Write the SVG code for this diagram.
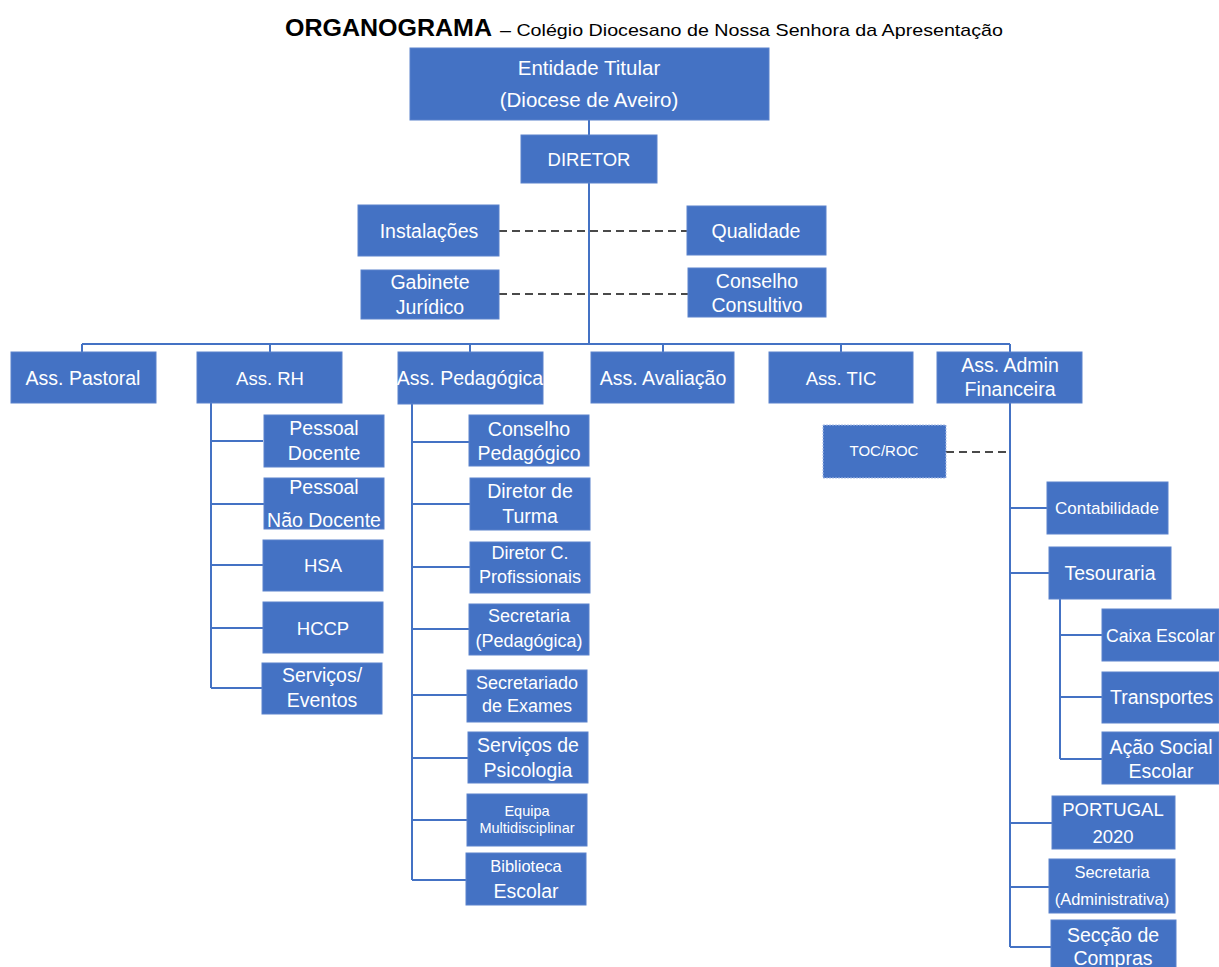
<svg xmlns="http://www.w3.org/2000/svg" width="1219" height="967" viewBox="0 0 1219 967">
<style>
.b{fill:#4472C4;stroke:#5a82cc;stroke-width:1}
.t{fill:#ffffff;font-family:"Liberation Sans",Arial,sans-serif;font-size:19.5px;text-anchor:middle}
.u{font-size:18.5px}
.m{font-size:18px}
.s{font-size:17px}
.xs{font-size:14.5px}
.c{stroke:#4472C4;stroke-width:2;fill:none}
.d{stroke:#4a4a4a;stroke-width:2;stroke-dasharray:8 5;fill:none}
</style>
<rect width="1219" height="967" fill="#ffffff"/>
<g id="title">
<text x="285" y="36" font-family="Liberation Sans,Arial,sans-serif" font-size="24" font-weight="bold" fill="#000" textLength="207" lengthAdjust="spacingAndGlyphs">ORGANOGRAMA</text>
<text x="500" y="36" font-family="Liberation Sans,Arial,sans-serif" font-size="17" fill="#000" textLength="503" lengthAdjust="spacingAndGlyphs">– Colégio Diocesano de Nossa Senhora da Apresentação</text>
</g>
<g id="connectors">
<path class="c" d="M589 120V135M589 183V344M82 344H1010M82 344V352M270 344V352M470 344V352M663 344V352M841 344V352M1010 344V352"/>
<path class="d" d="M499 231H687M499 294H688M946 452H1008"/>
<path class="c" d="M211 403V688M211 441H263M211 504H264M211 565H263M211 628H263M211 688H262"/>
<path class="c" d="M412 404V880M412 442H469M412 504H470M412 567H470M412 629H469M412 695H467M412 758H468M412 820H467M412 880H466"/>
<path class="c" d="M1010 403V947M1010 508H1047M1010 573H1049M1010 823H1052M1010 887H1049M1010 947H1051M1060 599V759M1060 635H1102M1060 697H1102M1060 759H1102"/>
</g>
<g id="entidade"><rect class="b" x="410" y="48" width="359" height="72"/><text class="t" x="589" y="75" style="font-size:20.5px">Entidade Titular</text><text class="t" x="589" y="107" style="font-size:20.5px">(Diocese de Aveiro)</text></g>
<g id="diretor"><rect class="b" x="521" y="135" width="136" height="48"/><text class="t u" x="589" y="165.5">DIRETOR</text></g>
<g id="instalacoes"><rect class="b" x="358" y="205" width="141" height="51"/><text class="t" x="429" y="238">Instalações</text></g>
<g id="qualidade"><rect class="b" x="687" y="206" width="139" height="49"/><text class="t" x="756" y="238">Qualidade</text></g>
<g id="gabinete"><rect class="b" x="361" y="270" width="138" height="49"/><text class="t" x="430" y="289">Gabinete</text><text class="t" x="430" y="314">Jurídico</text></g>
<g id="conselho-consultivo"><rect class="b" x="688" y="268" width="138" height="49"/><text class="t" x="757" y="288">Conselho</text><text class="t" x="757" y="312">Consultivo</text></g>
<g id="ass-pastoral"><rect class="b" x="11" y="352" width="145" height="51"/><text class="t" x="83" y="385">Ass. Pastoral</text></g>
<g id="ass-rh"><rect class="b" x="197" y="352" width="145" height="51"/><text class="t u" x="270" y="385">Ass. RH</text></g>
<g id="ass-pedagogica"><rect class="b" x="398" y="352" width="145" height="52"/><text class="t" x="470" y="385">Ass. Pedagógica</text></g>
<g id="ass-avaliacao"><rect class="b" x="591" y="352" width="143" height="51"/><text class="t" x="663" y="385">Ass. Avaliação</text></g>
<g id="ass-tic"><rect class="b" x="769" y="352" width="144" height="51"/><text class="t u" x="841" y="385">Ass. TIC</text></g>
<g id="ass-admin"><rect class="b" x="937" y="352" width="145" height="51"/><text class="t" x="1010" y="372">Ass. Admin</text><text class="t" x="1010" y="396">Financeira</text></g>
<g id="pessoal-docente"><rect class="b" x="264" y="415" width="120" height="52"/><text class="t" x="324" y="435">Pessoal</text><text class="t" x="324" y="460">Docente</text></g>
<g id="pessoal-nao-docente"><rect class="b" x="264" y="478" width="120" height="51"/><text class="t" x="324" y="494">Pessoal</text><text class="t" x="324" y="527">Não Docente</text></g>
<g id="hsa"><rect class="b" x="263" y="540" width="120" height="51"/><text class="t u" x="323" y="571.5">HSA</text></g>
<g id="hccp"><rect class="b" x="263" y="602" width="120" height="51"/><text class="t u" x="323" y="634.5">HCCP</text></g>
<g id="servicos-eventos"><rect class="b" x="262" y="663" width="120" height="51"/><text class="t" x="322" y="682">Serviços/</text><text class="t" x="322" y="707">Eventos</text></g>
<g id="conselho-pedagogico"><rect class="b" x="469" y="415" width="120" height="51"/><text class="t" x="529" y="436">Conselho</text><text class="t" x="529" y="460">Pedagógico</text></g>
<g id="diretor-turma"><rect class="b" x="470" y="478" width="120" height="52"/><text class="t" x="530" y="498">Diretor de</text><text class="t" x="530" y="523">Turma</text></g>
<g id="diretor-cp"><rect class="b" x="470" y="542" width="120" height="51"/><text class="t m" x="530" y="559">Diretor C.</text><text class="t m" x="530" y="583">Profissionais</text></g>
<g id="secretaria-pedagogica"><rect class="b" x="469" y="604" width="120" height="51"/><text class="t m" x="529" y="622">Secretaria</text><text class="t m" x="529" y="647">(Pedagógica)</text></g>
<g id="secretariado-exames"><rect class="b" x="467" y="670" width="120" height="52"/><text class="t m" x="527" y="689">Secretariado</text><text class="t m" x="527" y="712">de Exames</text></g>
<g id="servicos-psicologia"><rect class="b" x="468" y="732" width="120" height="51"/><text class="t" x="528" y="752">Serviços de</text><text class="t" x="528" y="777">Psicologia</text></g>
<g id="equipa-multidisciplinar"><rect class="b" x="467" y="794" width="120" height="52"/><text class="t xs" x="527" y="816">Equipa</text><text class="t xs" x="527" y="833">Multidisciplinar</text></g>
<g id="biblioteca-escolar"><rect class="b" x="466" y="853" width="120" height="52"/><text class="t" x="526" y="872" style="font-size:16.5px">Biblioteca</text><text class="t" x="526" y="898">Escolar</text></g>
<g id="toc-roc"><rect x="823" y="425" width="123" height="53" fill="#4472C4" stroke="#a9bde6" stroke-width="1" stroke-dasharray="2 1"/><text class="t" x="884" y="456" style="font-size:15px">TOC/ROC</text></g>
<g id="contabilidade"><rect class="b" x="1047" y="482" width="121" height="52"/><text class="t s" x="1107" y="514">Contabilidade</text></g>
<g id="tesouraria"><rect class="b" x="1049" y="547" width="122" height="52"/><text class="t" x="1110" y="580">Tesouraria</text></g>
<g id="caixa-escolar"><rect class="b" x="1102" y="609" width="117" height="52"/><text class="t" x="1106" y="642" style="text-anchor:start;font-size:18.5px" textLength="109" lengthAdjust="spacingAndGlyphs">Caixa Escolar</text></g>
<g id="transportes"><rect class="b" x="1102" y="672" width="117" height="51"/><text class="t" x="1110" y="704" style="text-anchor:start">Transportes</text></g>
<g id="acao-social"><rect class="b" x="1102" y="732" width="117" height="52"/><text class="t" x="1161" y="754">Ação Social</text><text class="t" x="1161" y="778">Escolar</text></g>
<g id="portugal-2020"><rect class="b" x="1052" y="796" width="123" height="53"/><text class="t u" x="1113" y="815.5">PORTUGAL</text><text class="t u" x="1113" y="842.5">2020</text></g>
<g id="secretaria-administrativa"><rect class="b" x="1049" y="859" width="126" height="54"/><text class="t" x="1112" y="878" style="font-size:16.5px">Secretaria</text><text class="t" x="1112" y="905" style="font-size:16.5px">(Administrativa)</text></g>
<g id="seccao-compras"><rect class="b" x="1051" y="920" width="125" height="60"/><text class="t" x="1113" y="942">Secção de</text><text class="t" x="1113" y="965">Compras</text></g>
</svg>
